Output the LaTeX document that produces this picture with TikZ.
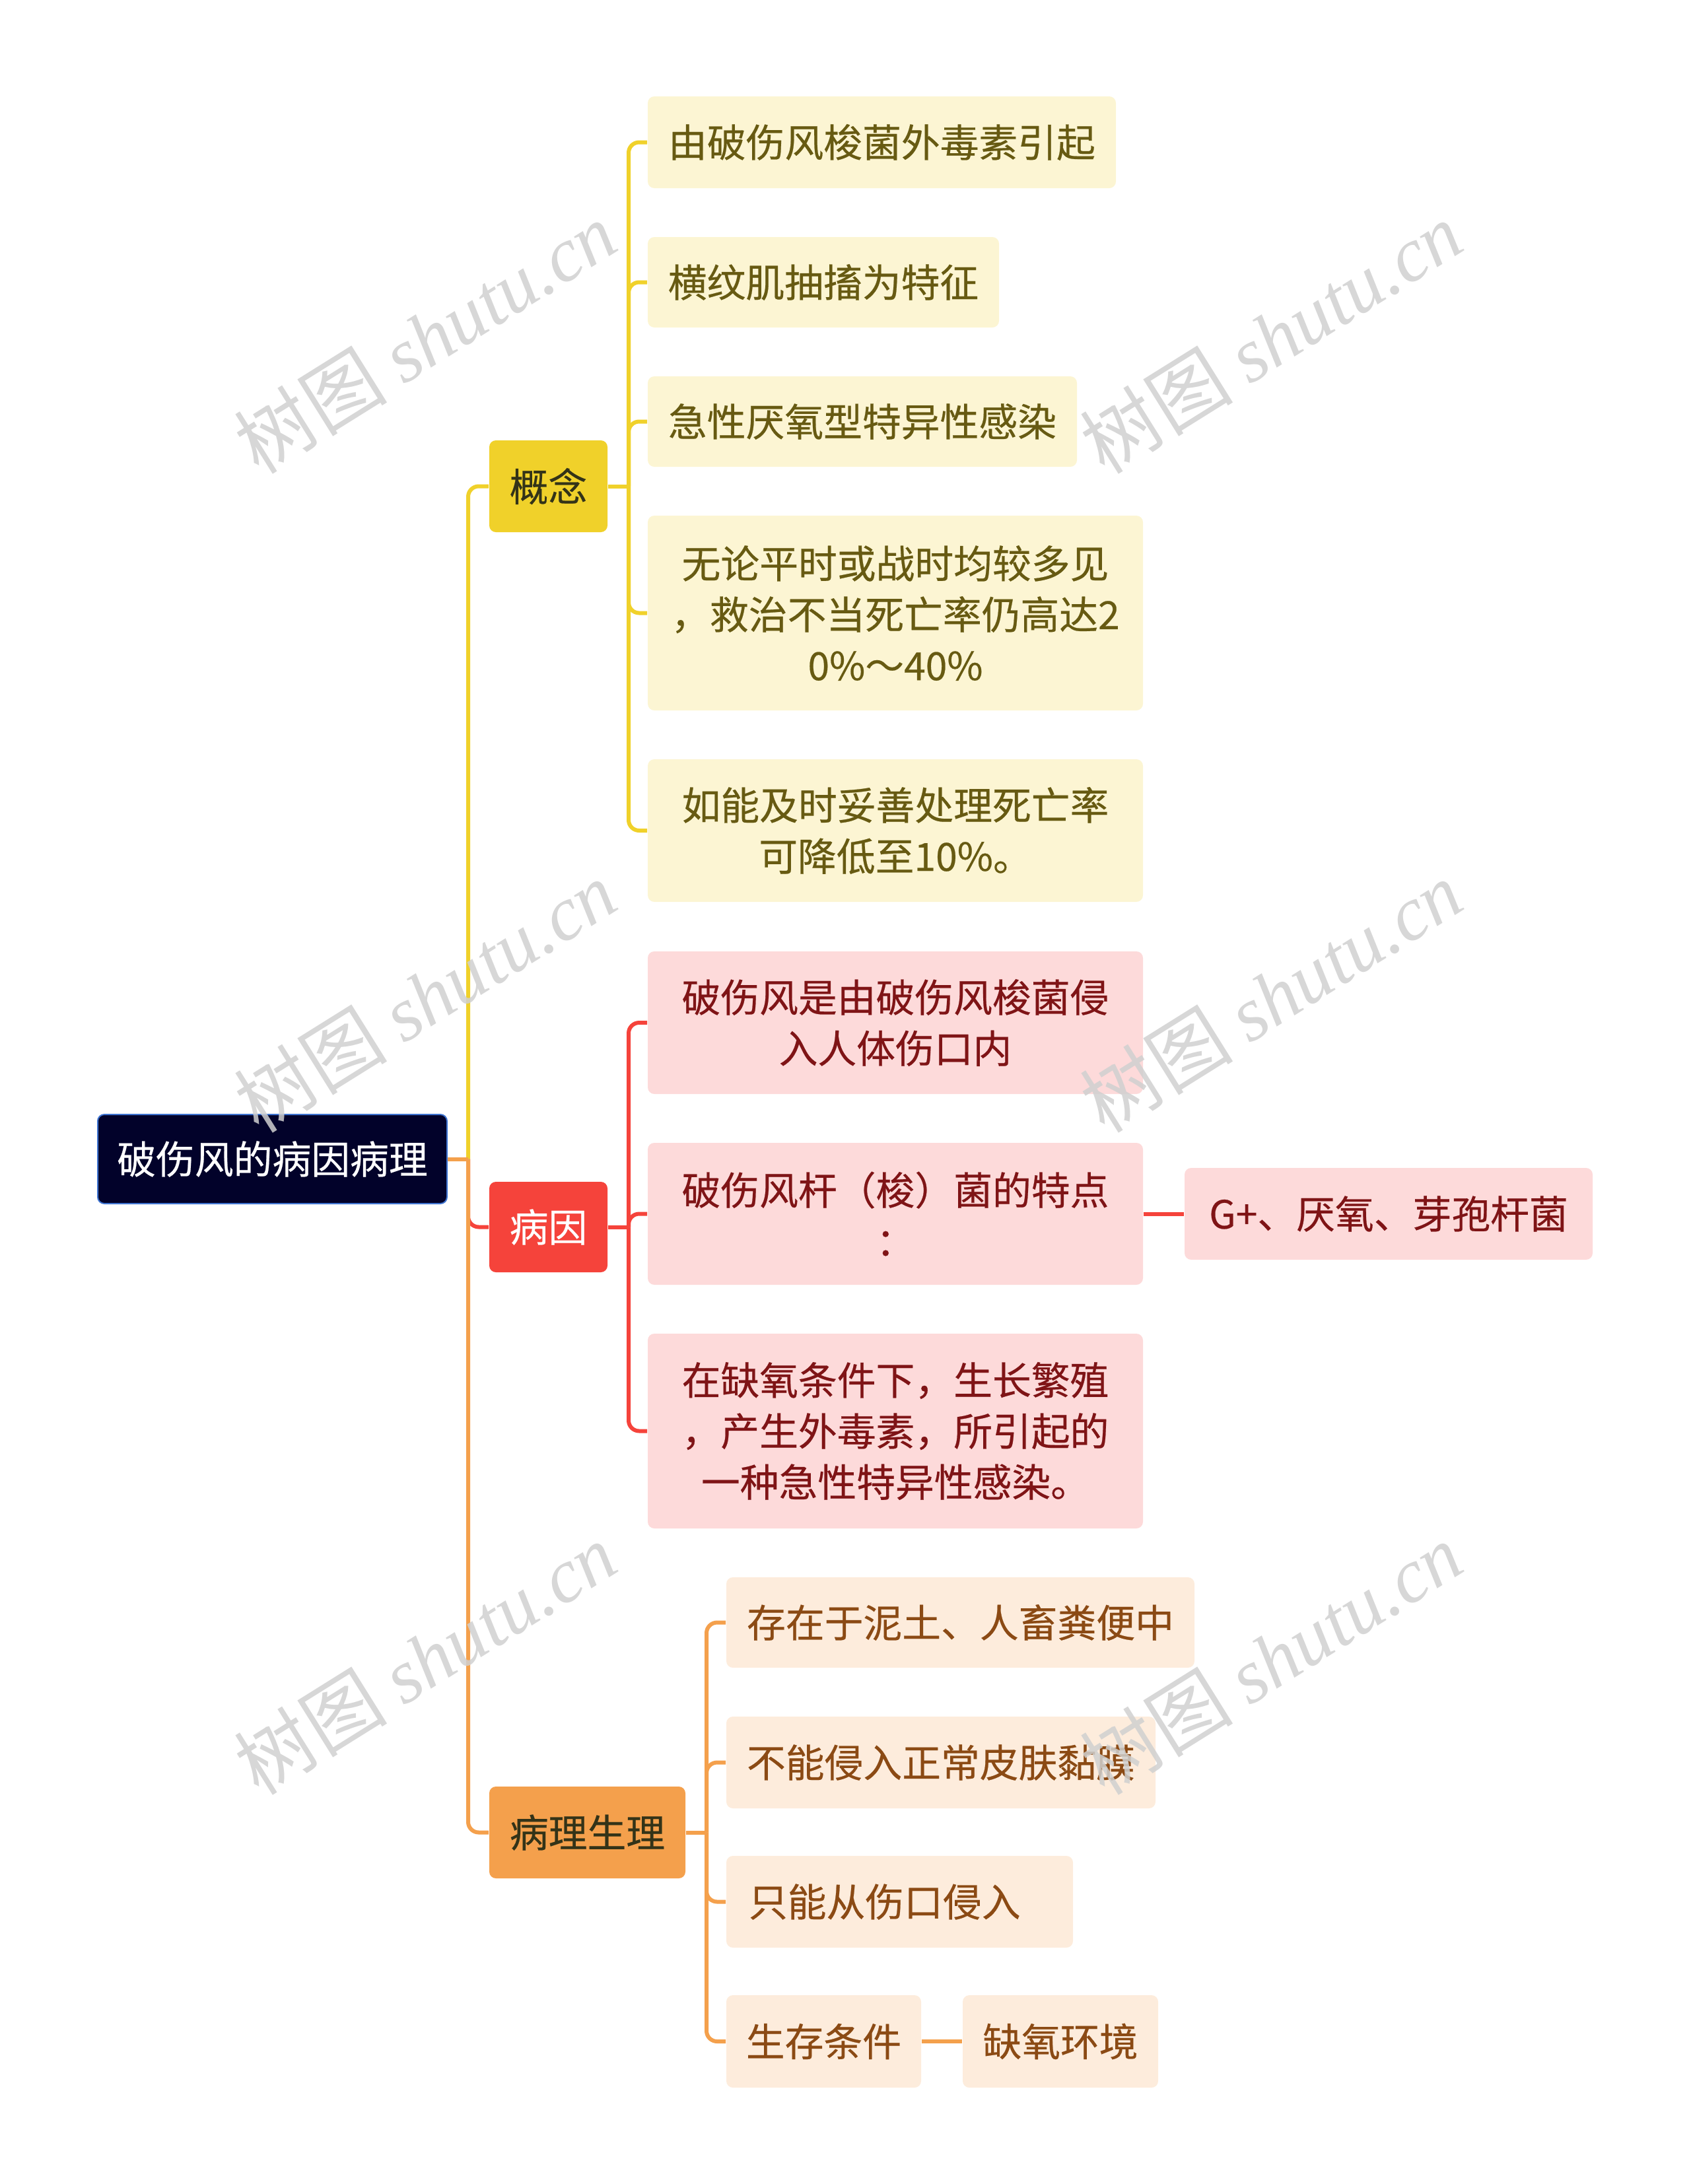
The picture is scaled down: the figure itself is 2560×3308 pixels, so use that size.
\documentclass[tikz,border=0pt]{standalone}
\usepackage{fontspec}
\setmainfont{Noto Sans CJK SC}[FakeBold=0.4]
\newfontfamily\wmlat{Liberation Serif}
\newfontfamily\wmcjk{Noto Sans CJK SC}
\definecolor{ylw}{HTML}{F0D12A}
\definecolor{ylwfill}{HTML}{FCF5D3}
\definecolor{ylwtext}{HTML}{675A12}
\definecolor{redc}{HTML}{F5433B}
\definecolor{redfill}{HTML}{FDDADA}
\definecolor{redtext}{HTML}{7F1416}
\definecolor{orgc}{HTML}{F4A04C}
\definecolor{orgfill}{HTML}{FDECDC}
\definecolor{orgtext}{HTML}{8B4A14}
\definecolor{rootfill}{HTML}{02022A}
\definecolor{rootborder}{HTML}{3F74D1}
\definecolor{darktext}{HTML}{333318}
\definecolor{wmgray}{HTML}{D0D0D0}
\begin{document}
\begin{tikzpicture}[x=0.25pt,y=-0.25pt,
  sz/.style 2 args={minimum width=#1*0.25pt, minimum height=#2*0.25pt},
  basebox/.style={rectangle, rounded corners=2.5pt, inner sep=0pt, align=center,
    font=\fontsize{14.7pt}{19.3pt}\selectfont},
  rootbox/.style={basebox, fill=rootfill, draw=rootborder, line width=0.5pt, text=white},
  kbox/.style={basebox, fill=ylw, text=darktext},
  rbox/.style={basebox, fill=redc, text=white},
  obox/.style={basebox, fill=orgc, text=darktext},
  ychild/.style={basebox, fill=ylwfill, text=ylwtext},
  rchild/.style={basebox, fill=redfill, text=redtext},
  ochild/.style={basebox, fill=orgfill, text=orgtext},
  conn/.style={line width=1.5pt, rounded corners=4pt},
  wm/.style={text=wmgray, opacity=0.85, inner sep=0pt, rotate=32, font=\wmcjk\fontsize{29pt}{30pt}\selectfont}
]
\useasboundingbox (0,0) rectangle (2560,3308);

% trunk reference coordinates
\coordinate (tx) at (709,0);
\coordinate (kx) at (952,0);
\coordinate (rx) at (952,0);
\coordinate (ox) at (1070,0);

% nodes
\node[rootbox, sz={529}{135}] (root) at (412.5,1755.5) {破伤风的病因病理};
\node[kbox, sz={179}{139}] (kn) at (830.5,736.5) {概念};
\node[rbox, sz={179}{137}] (by) at (830.5,1858.5) {病因};
\node[obox, sz={297}{139}] (bl) at (889.5,2775.5) {病理生理};

\node[ychild, sz={709}{139}] (c1) at (1335.5,215.5) {由破伤风梭菌外毒素引起};
\node[ychild, sz={532}{137}] (c2) at (1247,427.5) {横纹肌抽搐为特征};
\node[ychild, sz={650}{137}] (c3) at (1306,638.5) {急性厌氧型特异性感染};
\node[ychild, sz={750}{295}] (c4) at (1356,928.5) {无论平时或战时均较多见\\，救治不当死亡率仍高达2\\0\%～40\%};
\node[ychild, sz={750}{216}] (c5) at (1356,1258) {如能及时妥善处理死亡率\\可降低至10\%。};

\node[rchild, sz={750}{216}] (r1) at (1356,1549) {破伤风是由破伤风梭菌侵\\入人体伤口内};
\node[rchild, sz={750}{215}] (r2) at (1356,1838.5) {破伤风杆（梭）菌的特点\\：};
\node[rchild, sz={750}{295}] (r3) at (1356,2167.5) {在缺氧条件下，生长繁殖\\，产生外毒素，所引起的\\一种急性特异性感染。};
\node[rchild, sz={618}{139}] (g) at (2103,1838.5) {G+、厌氧、芽孢杆菌};

\node[ochild, sz={709}{137}] (o1) at (1454.5,2457.5) {存在于泥土、人畜粪便中};
\node[ochild, sz={650}{139}] (o2) at (1425,2669.5) {不能侵入正常皮肤黏膜};
\node[ochild, sz={525}{139}, text width=114.25pt, align=left] (o3) at (1362.5,2880.5) {只能从伤口侵入};
\node[ochild, sz={295}{140}] (o4) at (1247.5,3092) {生存条件};
\node[ochild, sz={296}{140}] (o5) at (1606,3092) {缺氧环境};

% root branches
\draw[conn, ylw] (root.east -| tx) |- (kn.west);
\draw[conn, redc] (root.east -| tx) |- (by.west);
\draw[conn, orgc] (root.east -| tx) |- (bl.west);
\draw[conn, orgc] (root.east) -- (root.east -| tx);

% concept branches
\draw[conn, ylw] (kn.east) -- (kn.east -| kx);
\foreach \n in {c1,c2,c3,c4,c5}
  \draw[conn, ylw] (kn.east -| kx) |- (\n.west);

% cause branches
\draw[conn, redc] (by.east) -- (by.east -| rx);
\foreach \n in {r1,r2,r3}
  \draw[conn, redc] (by.east -| rx) |- (\n.west);
\draw[conn, redc] (r2.east) -- (g.west);

% pathophysiology branches
\draw[conn, orgc] (bl.east) -- (bl.east -| ox);
\foreach \n in {o1,o2,o3,o4}
  \draw[conn, orgc] (bl.east -| ox) |- (\n.west);
\draw[conn, orgc] (o4.east) -- (o5.west);

% watermarks
\foreach \p [count=\i] in {(644,511),(1925,511),(644,1509),(1925,1509),(644,2512),(1925,2512)}
  \node[wm] (wm\i) at \p {树图 {\wmlat\itshape shutu.cn}};
\end{tikzpicture}
\end{document}
